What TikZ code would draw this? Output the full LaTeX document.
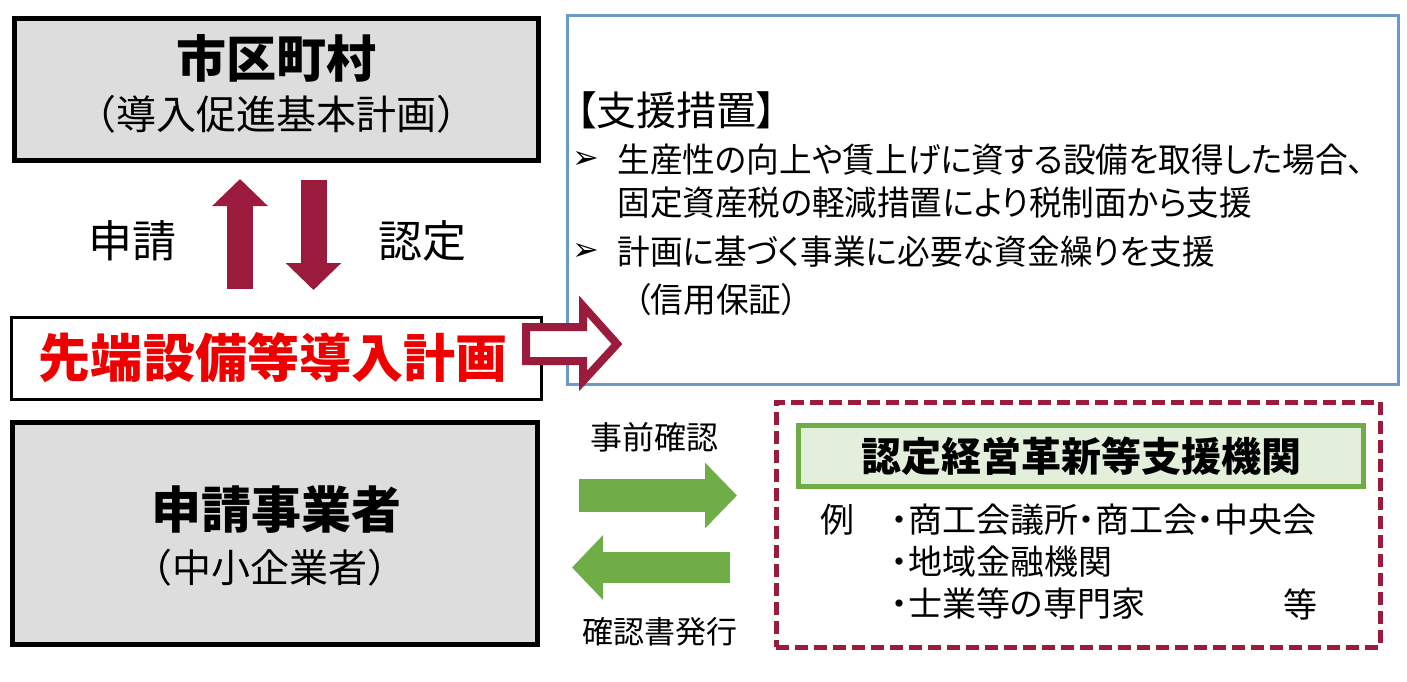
\documentclass[tikz,border=0pt]{standalone}
\usepackage{fontspec}
\setmainfont{Noto Sans CJK JP}[CharacterWidth=AlternateProportional]
\newfontfamily\fullfont{Noto Sans CJK JP}
\newfontfamily\aidfont{Noto Sans CJK JP}[CharacterWidth=AlternateProportional, FakeStretch=0.96]
\newfontfamily\symfont{DejaVu Sans}
\usetikzlibrary{arrows.meta,positioning}
\definecolor{Wine}{HTML}{9B1B3C}
\definecolor{Leaf}{HTML}{70AD47}
\definecolor{Mint}{HTML}{E2EFDA}
\definecolor{Steel}{HTML}{6A9AC9}
\definecolor{Ash}{HTML}{DDDDDD}
\definecolor{Signal}{HTML}{EE0000}
\newcommand{\fsz}[1]{\fontsize{#1}{#1}\selectfont}

\begin{document}
\begin{tikzpicture}[
    x=0.5pt, y=-0.5pt,
    graybox/.style={draw=black, line width=2.5pt, fill=Ash},
    planbox/.style={draw=black, line width=1.5pt, fill=white, minimum width=265pt, minimum height=41pt},
    aidbox/.style={draw=Steel, line width=1.5pt, minimum width=415.5pt, minimum height=184.5pt},
    agencybox/.style={draw=Wine, line width=2.5pt, dash pattern=on 6.5pt off 3pt,
      minimum width=302pt, minimum height=122.5pt},
    agencyhead/.style={draw=Leaf, line width=2.5pt, fill=Mint, minimum width=282.5pt,
      minimum height=30.75pt, font=\fsz{20pt}\bfseries},
    title/.style={inner sep=0pt, font=\fsz{25pt}\bfseries},
    subtitle/.style={inner sep=0pt, font=\fullfont\fsz{20pt}},
    flowtext/.style={inner sep=0pt, font=\fsz{22pt}},
    smalltext/.style={inner sep=0pt, font=\fsz{16pt}},
    aidline/.style={anchor=west, inner sep=0pt, font=\aidfont\fsz{17pt}},
    itemline/.style={anchor=west, inner sep=0pt, font=\fsz{17pt}},
    aidbullet/.style={inner sep=0pt, font=\symfont\fsz{16pt}},
    redarrow/.style={draw=Wine, line width=13pt, -{Triangle[length=13.5pt, width=27pt]}},
    greenarrow/.style={draw=Leaf, line width=16pt, -{Triangle[length=16pt, width=32pt]}},
    hollow/.style={draw=Wine, line width=4pt, fill=white, miter limit=10}
  ]
    \useasboundingbox (0,0) rectangle (1407,681);

    % municipality and its plan
    \node[graybox, minimum width=262pt, minimum height=71pt] (city) at (276.5,89.5) {};
    \node[title] (citytitle) at (276.5,58) {市区町村};
    \node[subtitle] (citysub) at (276.5,114) {（導入促進基本計画）};

    % support measures
    \node[aidbox] (aid) at (983,199.5) {};
    \node[itemline, font=\fsz{20pt}] (aidhead) at (576,110) {【支援措置】};
    \node[aidbullet] (bulleta) at (586,160) {➢};
    \node[aidline] (aida1) at (617,160) {生産性の向上や賃上げに資する設備を取得した場合、};
    \node[aidline] (aida2) at (617,203) {固定資産税の軽減措置により税制面から支援};
    \node[aidbullet] (bulletb) at (586,252) {➢};
    \node[aidline] (aidb1) at (617,252) {計画に基づく事業に必要な資金繰りを支援};
    \node[aidline] (aidb2) at (634,300) {（信用保証）};

    % the plan itself
    \node[planbox] (plan) at (276.5,358.5) {};
    \node[title, font=\fsz{26pt}\bfseries, text=Signal] (plantitle) at (273,358) {先端設備等導入計画};
    \draw[hollow] (526,327) -- (583,327) -- (583,306) -- (617,344) -- (583,381) -- (583,361) -- (526,361) -- cycle;

    % apply / approve
    \coordinate (upx) at (240,0);
    \coordinate (downx) at (313.5,0);
    \draw[redarrow, shorten <=13.5pt, shorten >=8pt] (plan.north -| upx) -- (city.south -| upx);
    \draw[redarrow, shorten <=8.5pt, shorten >=13pt] (city.south -| downx) -- (plan.north -| downx);
    \node[flowtext] (apply) at (132,241) {申請};
    \node[flowtext] (approve) at (422,241) {認定};

    % applicant
    \node[graybox, minimum width=262.5pt, minimum height=111pt] (applicant) at (275,533.5) {};
    \node[title] (apptitle) at (276,510) {申請事業者};
    \node[subtitle, font=\fullfont\fsz{19.5pt}] (appsub) at (270,568) {（中小企業者）};

    % support agency
    \node[agencybox] (agency) at (1078,524.5) {};
    \node[agencyhead] (agencytitle) at (1081,456) {認定経営革新等支援機関};
    \node[itemline, anchor=center] (example) at (837,520) {例};
    \node[itemline] (agencya) at (891,520) {・商工会議所・商工会・中央会};
    \node[itemline] (agencyb) at (891,562) {・地域金融機関};
    \node[itemline] (agencyc) at (891,604) {・士業等の専門家};
    \node[itemline, anchor=center] (etc) at (1300,604) {等};

    % check and confirmation
    \coordinate (rowgo) at (0,495.5);
    \coordinate (rowback) at (0,567.5);
    \draw[greenarrow, line width=16.5pt, shorten <=19.5pt, shorten >=18.25pt] (applicant.east |- rowgo) -- (agency.west |- rowgo);
    \draw[greenarrow, line width=15.5pt, -{Triangle[length=15.5pt, width=31.5pt]}, shorten <=21.75pt, shorten >=16pt] (agency.west |- rowback) -- (applicant.east |- rowback);
    \node[smalltext] (precheck) at (654,437) {事前確認};
    \node[smalltext, font=\fsz{15.5pt}] (issue) at (660,632) {確認書発行};
\end{tikzpicture}
\end{document}
